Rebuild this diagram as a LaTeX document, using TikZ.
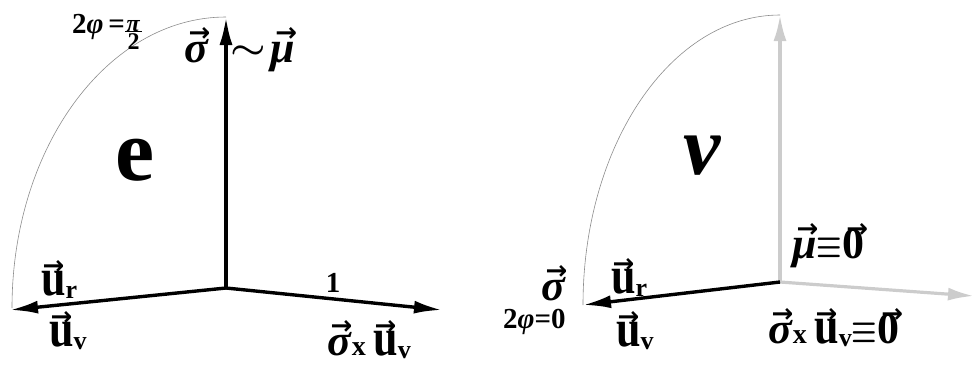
\documentclass[tikz,border=0pt]{standalone}
\usepackage{amsmath}
\usepackage{graphicx}
\usepackage{fontspec}
\setmainfont{Liberation Serif}[BoldFont={Liberation Serif Bold},ItalicFont={Liberation Serif Italic},BoldItalicFont={Liberation Serif Bold Italic}]
\newfontfamily\arrowfont{DejaVu Sans}[BoldFont={DejaVu Sans Bold}]
\usetikzlibrary{arrows.meta}
% vector: arrow placed at a fixed height above the baseline
\newcommand\vv[2][0pt]{\setbox0\hbox{#2}\leavevmode\rlap{\hspace*{#1}\raisebox{21pt}[0pt][0pt]{\makebox[\wd0]{\fontsize{26}{26}\selectfont\arrowfont\bfseries →}}}\box0}
\newcommand\gk[1]{\textbf{\textit{#1}}}
\newcommand\uu{\scalebox{1}[1.2]{u}}
\newcommand\sub[1]{\raisebox{-3pt}{\fontsize{26}{26}\selectfont #1}}
\newcommand\xx{{\fontsize{28}{28}\selectfont x}}
\newcommand\tld{\raisebox{4pt}{\scalebox{1.6}[1.3]{$\boldsymbol{\sim}$}}}
\newcommand\eqv{\raisebox{1pt}{\scalebox{1.15}[1.55]{$\boldsymbol{\equiv}$}}}
\newcommand\fracpi{\raisebox{-16pt}{\fontsize{24}{24}\selectfont\shortstack{\gk{π}\\[-3pt]\rule{17pt}{0.7pt}\\[-2pt]2}}}
\tikzset{
  blackvec/.style={line width=3.4pt, draw=black, -{Latex[length=28pt,width=13pt]}},
  grayvec/.style={line width=3.2pt, draw=black!20, -{Latex[length=26pt,width=13pt]}},
  arcline/.style={draw=black!45, line width=0.6pt},
  lbl/.style={inner sep=0pt, font=\fontsize{44}{48}\selectfont\bfseries},
  small/.style={inner sep=0pt, font=\fontsize{29}{32}\selectfont\bfseries},
  big/.style={inner sep=0pt, font=\fontsize{88}{90}\selectfont\bfseries}
}
\begin{document}
\begin{tikzpicture}[x=1pt,y=-1pt]
\useasboundingbox (0,0) rectangle (974,368);
% ---------- left panel (e) ----------
\coordinate (O1) at (226,288);
\coordinate (T1) at (226,17);
\coordinate (L1) at (10,310);
\coordinate (R1) at (442,310);
\draw[arcline] (T1) arc[start angle=270, end angle=180, x radius=214, y radius=291];
\draw[blackvec] (O1) -- (T1);
\draw[blackvec] (O1) -- (L1);
\draw[blackvec] (O1) -- (R1);
\node[big] (e) at (135,160) {e};
\node[small, anchor=base west] (phi1) at (72,33) {2\gk{φ}\,=\fracpi};
\node[lbl, anchor=base west] (sm) at (184,62) {\vv[3pt]{\gk{σ}}\hspace{0.5em}\tld\hspace{0.1em}\vv[3pt]{\gk{μ}}};
\node[lbl, anchor=base west] (ur1) at (41,295) {\vv{\uu}\sub{r}};
\node[lbl, anchor=base west] (uv1) at (49,346) {\vv{\uu}\sub{v}};
\node[small, anchor=base] (one) at (333,292) {1};
\node[lbl, anchor=base west] (sxu) at (327,355) {\vv[2pt]{\gk{σ}}\xx\,\vv{\uu}\sub{v}};
% ---------- right panel (nu) ----------
\coordinate (O2) at (780,282);
\coordinate (T2) at (780,15);
\coordinate (L2) at (583,305);
\coordinate (R2) at (974,296);
\draw[arcline] (T2) arc[start angle=270, end angle=180, x radius=197, y radius=290];
\draw[grayvec] (O2) -- (T2);
\draw[grayvec] (O2) -- (R2);
\draw[blackvec] (O2) -- (L2);
\node[inner sep=0pt, font=\fontsize{84}{88}\selectfont\bfseries\itshape] (nu) at (702,156) {ν};
\node[lbl, anchor=base west] (mu0) at (792,258) {\vv[3pt]{\gk{μ}}\eqv\vv[4pt]{0}};
\node[lbl, anchor=base west] (sig2) at (541,300) {\vv[3pt]{\gk{σ}}};
\node[small, anchor=base west] (phi2) at (503,328) {2\gk{φ}=0};
\node[lbl, anchor=base west] (ur2) at (611,293) {\vv{\uu}\sub{r}};
\node[lbl, anchor=base west] (uv2) at (616,346) {\vv{\uu}\sub{v}};
\node[lbl, anchor=base west] (sxu2) at (768,343) {\vv[2pt]{\gk{σ}}\xx\,\vv{\uu}\sub{v}\eqv\vv[4pt]{0}};
\end{tikzpicture}
\end{document}
